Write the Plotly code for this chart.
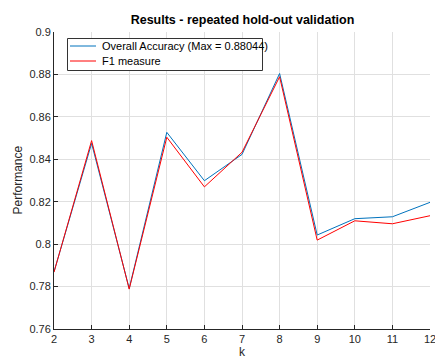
import plotly.graph_objects as go

# number of folds / partitions k
k_values = [2, 3, 4, 5, 6, 7, 8, 9, 10, 11, 12]

# mean scores over the repeated hold-out runs
overall_accuracy = [0.7870, 0.8475, 0.7791, 0.8527, 0.8299, 0.8423, 0.88044,
                    0.8043, 0.8120, 0.8129, 0.8197]
f1_measure = [0.7868, 0.8488, 0.7788, 0.8504, 0.8270, 0.8433, 0.8789,
              0.8019, 0.8110, 0.8096, 0.8134]

y_ticks = [0.76, 0.78, 0.80, 0.82, 0.84, 0.86, 0.88, 0.90]
y_tick_text = ["0.76", "0.78", "0.8", "0.82", "0.84", "0.86", "0.88", "0.9"]

acc_label = "Overall Accuracy (Max = %.5f)" % max(overall_accuracy)
f1_label = "F1 measure"
blue, red = "#0072BD", "#FF0000"

FONT = "Liberation Sans, Arial, sans-serif"
TEXT = "#262626"

# plot area geometry in pixels (used to place the compact legend box)
W, H = 435, 360
L, R, T, B = 54, 5, 32, 31
PW, PH = W - L - R, H - T - B


def px(x):
    return (x - L) / PW


def py(y):
    return (H - B - y) / PH


fig = go.Figure()
fig.add_trace(go.Scatter(x=k_values, y=overall_accuracy, mode="lines",
                         name=acc_label, line=dict(color=blue, width=1)))
fig.add_trace(go.Scatter(x=k_values, y=f1_measure, mode="lines",
                         name=f1_label, line=dict(color=red, width=1)))

# compact boxed legend
legend_shapes = [
    dict(type="rect", xref="paper", yref="paper",
         x0=px(67.5), x1=px(262.5), y0=py(70.5), y1=py(38.5),
         line=dict(color="#333333", width=1), fillcolor="white", layer="above"),
    dict(type="line", xref="paper", yref="paper",
         x0=px(70), x1=px(96), y0=py(46), y1=py(46),
         line=dict(color=blue, width=1), layer="above"),
    dict(type="line", xref="paper", yref="paper",
         x0=px(70), x1=px(96), y0=py(61), y1=py(61),
         line=dict(color=red, width=1), layer="above"),
]
legend_texts = [
    dict(text=acc_label, xref="paper", yref="paper", x=px(100), y=py(46),
         xanchor="left", yanchor="middle", showarrow=False,
         font=dict(size=11, color="black")),
    dict(text=f1_label, xref="paper", yref="paper", x=px(100), y=py(61),
         xanchor="left", yanchor="middle", showarrow=False,
         font=dict(size=11, color="black")),
]

fig.update_layout(
    width=W, height=H,
    margin=dict(l=L, r=R, t=T, b=B, autoexpand=False),
    paper_bgcolor="white", plot_bgcolor="white",
    font=dict(family=FONT, size=11, color=TEXT),
    title=dict(text="<b>Results - repeated hold-out validation</b>",
               x=242.5 / W, xanchor="center", y=1 - 20 / H, yanchor="middle",
               yref="container", font=dict(size=12.5, color="black")),
    showlegend=False,
    xaxis=dict(range=[2, 12], tickvals=k_values, showgrid=True,
               gridcolor="#e0e0e0", gridwidth=1, zeroline=False,
               showline=True, linecolor="#262626", linewidth=1, mirror=False,
               ticks="inside", ticklen=4, tickcolor="#262626",
               ticklabeloverflow="allow",
               tickfont=dict(size=11, color=TEXT), automargin=False),
    yaxis=dict(range=[0.76, 0.90], tickvals=y_ticks, ticktext=y_tick_text,
               showgrid=True, gridcolor="#e0e0e0", gridwidth=1, zeroline=False,
               showline=True, linecolor="#262626", linewidth=1, mirror=False,
               ticks="inside", ticklen=4, tickcolor="#262626",
               ticklabeloverflow="allow",
               tickfont=dict(size=11, color=TEXT), automargin=False),
    shapes=legend_shapes,
    annotations=legend_texts + [
        dict(text="Performance", xref="paper", yref="paper", x=0, y=0.5,
             xanchor="center", yanchor="middle", xshift=-37, textangle=-90,
             showarrow=False, font=dict(size=12, color=TEXT)),
        dict(text="k", xref="paper", yref="paper", x=0.5, y=0,
             xanchor="center", yanchor="middle", yshift=-23,
             showarrow=False, font=dict(size=12, color=TEXT)),
    ],
)

fig.write_html("out.html")
